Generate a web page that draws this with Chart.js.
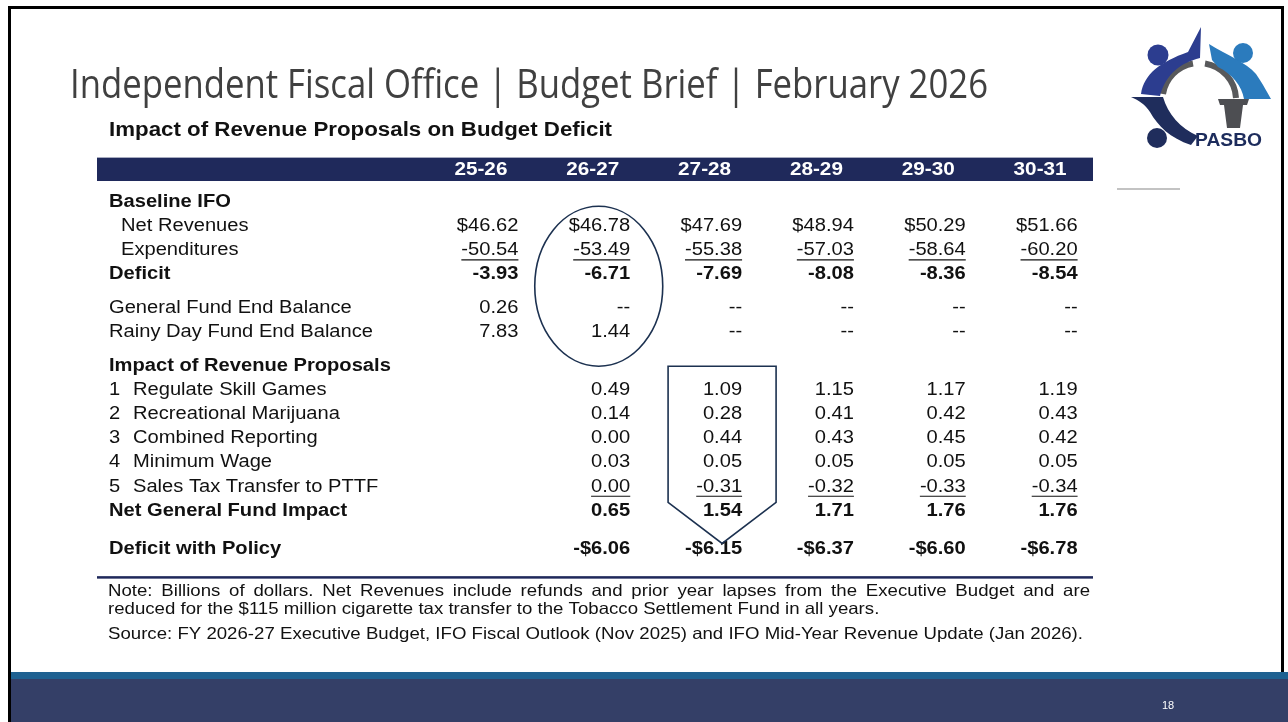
<!DOCTYPE html>
<html>
<head>
<meta charset="utf-8">
<script src="https://cdn.jsdelivr.net/npm/chart.js@4.4.1/dist/chart.umd.min.js"></script>
<style>
  html, body { margin: 0; padding: 0; background: #fff; }
  #wrap { position: relative; width: 1288px; height: 722px; overflow: hidden; }
  #logo { position: absolute; left: 0; top: 0; }
</style>
</head>
<body>
<div id="wrap">
  <canvas id="slide" width="1288" height="722"></canvas>
  <svg id="logo" width="1288" height="722" viewBox="0 0 1288 722">
    <g fill="none" stroke="#58595b" stroke-width="6">
      <path d="M1163,94 A37,37 0 0 1 1193,63.5"/>
      <path d="M1205,63.5 A37,37 0 0 1 1236,98"/>
      <path d="M1162,106 A37,37 0 0 0 1190,136"/>
    </g>
    <circle cx="1158" cy="55" r="10.5" fill="#2c3d8f"/>
    <path d="M1141,94 C1144,74 1160,62 1188,52 L1201,27 L1200,58 C1180,63 1166,74 1160,96 Z" fill="#2c3d8f"/>
    <circle cx="1243" cy="53" r="10" fill="#2b7bbd"/>
    <path d="M1209,44 C1228,56 1246,62 1256,74 C1263,84 1267,92 1271,99 L1244,99 C1242,86 1232,74 1218,67 L1212,60 Z" fill="#2b7bbd"/>
    <circle cx="1157" cy="138" r="10" fill="#1f2d5c"/>
    <path d="M1131,97 L1163,97 C1168,114 1180,128 1198,136 L1191,145 C1170,138 1158,126 1150,112 C1145,104 1138,100 1131,97 Z" fill="#1f2d5c"/>
    <polygon points="1218,99 1249,99 1247,105 1243,105 1240,128 1227,128 1224,105 1220,105" fill="#4d4e52"/>
    <text x="1195" y="146" font-family="Liberation Sans Narrow, Liberation Sans, Arial" font-weight="bold" font-size="19" fill="#1d2c5c" textLength="67" lengthAdjust="spacingAndGlyphs">PASBO</text>
  </svg>
</div>
<script>
// Impact of Revenue Proposals on Budget Deficit (IFO Budget Brief slide)

const slideTitle = 'Independent Fiscal Office | Budget Brief | February 2026';
const tableTitle = 'Impact of Revenue Proposals on Budget Deficit';
const pageNumber = '18';

const years = ['25-26', '26-27', '27-28', '28-29', '29-30', '30-31'];

const rowLabels = [
  'Baseline IFO',
  'Net Revenues',
  'Expenditures',
  'Deficit',
  'General Fund End Balance',
  'Rainy Day Fund End Balance',
  'Impact of Revenue Proposals',
  '1 Regulate Skill Games',
  '2 Recreational Marijuana',
  '3 Combined Reporting',
  '4 Minimum Wage',
  '5 Sales Tax Transfer to PTTF',
  'Net General Fund Impact',
  'Deficit with Policy',
];

// billions of dollars
const netRevenues        = [46.62, 46.78, 47.69, 48.94, 50.29, 51.66];
const expenditures       = [-50.54, -53.49, -55.38, -57.03, -58.64, -60.20];
const deficit            = [-3.93, -6.71, -7.69, -8.08, -8.36, -8.54];
const generalFundBalance = [0.26, '--', '--', '--', '--', '--'];
const rainyDayBalance    = [7.83, 1.44, '--', '--', '--', '--'];
const skillGames         = [null, 0.49, 1.09, 1.15, 1.17, 1.19];
const marijuana          = [null, 0.14, 0.28, 0.41, 0.42, 0.43];
const combinedReporting  = [null, 0.00, 0.44, 0.43, 0.45, 0.42];
const minimumWage        = [null, 0.03, 0.05, 0.05, 0.05, 0.05];
const salesTaxTransfer   = [null, 0.00, -0.31, -0.32, -0.33, -0.34];
const netImpact          = [null, 0.65, 1.54, 1.71, 1.76, 1.76];
const deficitWithPolicy  = [null, -6.06, -6.15, -6.37, -6.60, -6.78];

const rowValues = [
  null, netRevenues, expenditures, deficit, generalFundBalance, rainyDayBalance,
  null, skillGames, marijuana, combinedReporting, minimumWage, salesTaxTransfer,
  netImpact, deficitWithPolicy,
];

const noteLines = [
  'Note: Billions of dollars. Net Revenues include refunds and prior year lapses from the Executive Budget and are',
  'reduced for the $115 million cigarette tax transfer to the Tobacco Settlement Fund in all years.',
];
const sourceLine = 'Source: FY 2026-27 Executive Budget, IFO Fiscal Outlook (Nov 2025) and IFO Mid-Year Revenue Update (Jan 2026).';

// ── layout / styling ──────────────────────────────────
const GAP_BEFORE = { 4: 0.4, 6: 0.4, 13: 0.6 };
const BOLD_ROWS = new Set([0, 3, 6, 12, 13]);
const INDENT_ROWS = new Set([1, 2]);
const UNDERLINE_ROWS = new Set([2, 11]);
const NAVY = '#1f295b';
const INK = '#111111';
const FONT_REG = '17.5px "Liberation Sans", Arial, sans-serif';
const FONT_BOLD = 'bold 17.5px "Liberation Sans", Arial, sans-serif';
const SX = 1.15;

const rowPos = [];
let acc = 0;
rowLabels.forEach((_, r) => { acc += GAP_BEFORE[r] || 0; rowPos.push(r + acc); });

function fmt(r, v) {
  if (typeof v === 'string') return v;
  if (r === 1) return '$' + v.toFixed(2);
  if (r === 13) return (v < 0 ? '-$' : '$') + Math.abs(v).toFixed(2);
  return v.toFixed(2);
}

function drawText(c, s, x, y, o) {
  c.save();
  c.font = o.font;
  c.fillStyle = o.color || INK;
  c.textBaseline = o.baseline || 'middle';
  c.textAlign = 'left';
  const w = c.measureText(s).width;
  const k = o.width ? o.width / w : (o.sx || 1);
  const W = w * k;
  const left = o.align === 'right' ? x - W : o.align === 'center' ? x - W / 2 : x;
  c.translate(left, y);
  c.scale(k, 1);
  c.fillText(s, 0, 0);
  c.restore();
  return { left, width: W, k };
}

function drawJustified(c, s, x, y, width, font, k) {
  c.save();
  c.font = font;
  const words = s.split(' ');
  const ws = words.map(w => c.measureText(w).width * k);
  const gap = (width - ws.reduce((a, b) => a + b, 0)) / (words.length - 1);
  c.restore();
  let cx = x;
  words.forEach((w, i) => {
    drawText(c, w, cx, y, { font, sx: k, color: INK });
    cx += ws[i] + gap;
  });
}

const slidePlugin = {
  id: 'slide',
  beforeDraw(chart) {
    const c = chart.ctx;
    const xs = chart.scales.x, ys = chart.scales.y;
    c.save();
    c.fillStyle = '#fff';
    c.fillRect(0, 0, 1288, 722);

    // slide frame
    c.fillStyle = '#000';
    c.fillRect(8, 6, 1276, 3);
    c.fillRect(8, 6, 3, 716);
    c.fillRect(1281, 6, 3, 666);

    // footer bands
    c.fillStyle = '#1f6191';
    c.fillRect(11, 672, 1277, 7);
    c.fillStyle = '#343f67';
    c.fillRect(11, 679, 1277, 43);
    drawText(c, pageNumber, 1168, 706, { font: '11px "Liberation Sans Narrow", "Liberation Sans", Arial', color: '#fff', align: 'center' });

    // slide title
    drawText(c, slideTitle, 70, 98, { font: '40px "Open Sans", "Liberation Sans", sans-serif', color: '#404040', baseline: 'alphabetic', width: 918 });

    // rule under logo
    c.fillStyle = '#c3c3c3';
    c.fillRect(1117, 188, 63, 2);

    // table title
    drawText(c, tableTitle, 109, 131, { font: 'bold 19.5px "Liberation Sans", Arial', color: INK, width: 503 });

    // header bar with year labels
    const hTop = ys.getPixelForValue(-1.85), hBot = ys.getPixelForValue(-0.88);
    c.fillStyle = NAVY;
    c.fillRect(97, hTop, 996, hBot - hTop);
    years.forEach((yr, i) => {
      drawText(c, yr, xs.getPixelForValue(i), ys.getPixelForValue(-1.35), { font: 'bold 18px "Liberation Sans", Arial', color: '#fff', align: 'center', sx: SX });
    });

    // bottom rule
    c.fillStyle = NAVY;
    c.fillRect(97, ys.getPixelForValue(15.55) - 1, 996, 2.5);

    // notes
    const nFont = '16.5px "Liberation Sans Narrow", "Liberation Sans", Arial';
    const src = drawText(c, sourceLine, 108, 634, { font: nFont, width: 975 });
    drawJustified(c, noteLines[0], 108, 591, 982, nFont, src.k);
    drawText(c, noteLines[1], 108, 609, { font: nFont, sx: src.k });
    c.restore();
  },
  afterDatasetsDraw(chart) {
    const c = chart.ctx;
    const xs = chart.scales.x, ys = chart.scales.y;

    // row labels
    rowLabels.forEach((lab, r) => {
      const y = ys.getPixelForValue(rowPos[r]);
      const font = BOLD_ROWS.has(r) ? FONT_BOLD : FONT_REG;
      const m = lab.match(/^(\d)\s+(.*)$/);
      if (m) {
        drawText(c, m[1], 109, y, { font, sx: SX });
        drawText(c, m[2], 133, y, { font, sx: SX });
      } else {
        drawText(c, lab, INDENT_ROWS.has(r) ? 121 : 109, y, { font, sx: SX });
      }
    });

    // cell values, right aligned in each year column
    chart.data.datasets.forEach((ds, di) => {
      const r = ds.rowIndex;
      const meta = chart.getDatasetMeta(di);
      meta.data.forEach((el, j) => {
        const s = fmt(r, ds.data[j].v);
        const font = BOLD_ROWS.has(r) ? FONT_BOLD : FONT_REG;
        const right = el.x + 37.5;
        const t = drawText(c, s, right, el.y, { font, sx: SX, align: 'right' });
        if (UNDERLINE_ROWS.has(r) && s !== '--') {
          c.save();
          c.strokeStyle = INK;
          c.lineWidth = 1.2;
          c.beginPath();
          c.moveTo(t.left, el.y + 9.5);
          c.lineTo(right, el.y + 9.5);
          c.stroke();
          c.restore();
        }
      });
    });

    // highlight: ellipse around 26-27 baseline, arrow box around 27-28 proposals
    c.save();
    c.strokeStyle = '#1c3150';
    c.lineWidth = 1.6;
    const eTop = ys.getPixelForValue(0.17), eBot = ys.getPixelForValue(6.8);
    c.beginPath();
    c.ellipse(xs.getPixelForValue(1) + 6, (eTop + eBot) / 2, 64, (eBot - eTop) / 2, 0, 0, Math.PI * 2);
    c.stroke();

    const ax = xs.getPixelForValue(2) + 17.5;
    const aTop = ys.getPixelForValue(6.8), aMid = ys.getPixelForValue(12.45), aTip = ys.getPixelForValue(14.15);
    c.beginPath();
    c.moveTo(ax - 54, aTop);
    c.lineTo(ax + 54, aTop);
    c.lineTo(ax + 54, aMid);
    c.lineTo(ax, aTip);
    c.lineTo(ax - 54, aMid);
    c.closePath();
    c.stroke();
    c.restore();
  },
};

const datasets = [];
rowValues.forEach((vals, r) => {
  if (!vals) return;
  datasets.push({
    label: rowLabels[r],
    rowIndex: r,
    data: years.map((yr, i) => ({ x: yr, y: rowPos[r], v: vals[i] })).filter(d => d.v !== null),
    showLine: false,
    pointRadius: 0,
    pointHoverRadius: 0,
  });
});

new Chart(document.getElementById('slide'), {
  type: 'line',
  data: { labels: years, datasets },
  options: {
    responsive: false,
    animation: false,
    events: [],
    layout: { padding: { top: 154, bottom: 134, left: 425, right: 192 } },
    scales: {
      x: { type: 'category', display: false, offset: true },
      y: { type: 'linear', display: false, reverse: true, min: -2, max: 16 },
    },
    plugins: { legend: { display: false }, tooltip: { enabled: false } },
  },
  plugins: [slidePlugin],
});
</script>
</body>
</html>
